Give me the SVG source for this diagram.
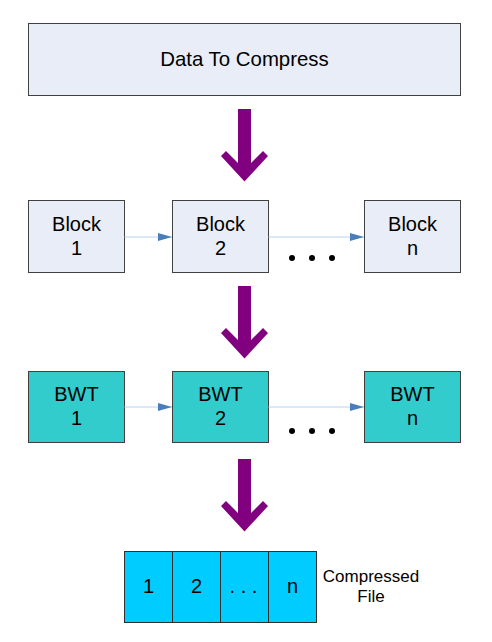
<svg xmlns="http://www.w3.org/2000/svg" width="492" height="642" viewBox="0 0 492 642">
<defs>
<style>
.box{stroke:#404040;stroke-width:1}
.blk{fill:#e8edf7}
.bwt{fill:#33cccc}
.cell{fill:#00ccff;stroke:#303030;stroke-width:1}
text{font-family:"Liberation Sans",Arial,sans-serif;fill:#000;text-anchor:middle}
.t20{font-size:20px}
.tt{font-size:20.4px}
.t17{font-size:17px}
.conn{stroke:#b8d2ee;stroke-width:1;fill:none}
.big{fill:#800080}
.dot{fill:#000}
</style>
<marker id="ah" markerWidth="14" markerHeight="8" refX="14" refY="4" orient="auto" markerUnits="userSpaceOnUse">
<path d="M0,0 L14,4 L0,8 Z" fill="#4a7ebb"/>
</marker>
<path id="bigarrow" d="M244.5,72.5 L221,47 L226,42 L238,54 L238,0 L251,0 L251,54 L263,42 L268,47 Z"/>
</defs>
<rect width="492" height="642" fill="#fff"/>

<g id="data">
<rect class="box blk" x="28.5" y="23.5" width="432" height="72"/>
<text class="tt" x="244.5" y="66">Data To Compress</text>
</g>

<g id="block1">
<rect class="box blk" x="28.5" y="200.5" width="96" height="72"/>
<text class="t20" x="76.5" y="231">Block</text>
<text class="t20" x="76.5" y="255">1</text>
</g>
<g id="block2">
<rect class="box blk" x="172.5" y="200.5" width="96" height="72"/>
<text class="t20" x="220.5" y="231">Block</text>
<text class="t20" x="220.5" y="255">2</text>
</g>
<g id="blockn">
<rect class="box blk" x="364.5" y="200.5" width="96" height="72"/>
<text class="t20" x="412.5" y="231">Block</text>
<text class="t20" x="412.5" y="255">n</text>
</g>

<g id="bwt1">
<rect class="box bwt" x="28.5" y="371.5" width="96" height="71"/>
<text class="t20" x="76.5" y="401">BWT</text>
<text class="t20" x="76.5" y="425">1</text>
</g>
<g id="bwt2">
<rect class="box bwt" x="172.5" y="371.5" width="96" height="71"/>
<text class="t20" x="220.5" y="401">BWT</text>
<text class="t20" x="220.5" y="425">2</text>
</g>
<g id="bwtn">
<rect class="box bwt" x="364.5" y="371.5" width="96" height="71"/>
<text class="t20" x="412.5" y="401">BWT</text>
<text class="t20" x="412.5" y="425">n</text>
</g>

<g id="compressed">
<rect class="cell" x="124.5" y="551.5" width="48" height="71"/>
<rect class="cell" x="172.5" y="551.5" width="48" height="71"/>
<rect class="cell" x="220.5" y="551.5" width="48" height="71"/>
<rect class="cell" x="268.5" y="551.5" width="48" height="71"/>
<text class="t20" x="148.5" y="593">1</text>
<text class="t20" x="196.5" y="593">2</text>
<text class="t20" x="243.5" y="593">. . .</text>
<text class="t20" x="292.5" y="593">n</text>
</g>
<g id="compressed-label">
<text class="t17" x="371" y="582">Compressed</text>
<text class="t17" x="371" y="602">File</text>
</g>

<g id="connectors">
<line class="conn" x1="124.5" y1="237" x2="172" y2="237" marker-end="url(#ah)"/>
<line class="conn" x1="268.5" y1="237" x2="364" y2="237" marker-end="url(#ah)"/>
<line class="conn" x1="124.5" y1="407" x2="172" y2="407" marker-end="url(#ah)"/>
<line class="conn" x1="268.5" y1="407" x2="364" y2="407" marker-end="url(#ah)"/>
<circle class="dot" cx="292" cy="258" r="3"/>
<circle class="dot" cx="312" cy="258" r="3"/>
<circle class="dot" cx="332" cy="258" r="3"/>
<circle class="dot" cx="292" cy="431" r="3"/>
<circle class="dot" cx="312" cy="431" r="3"/>
<circle class="dot" cx="332" cy="431" r="3"/>
<use href="#bigarrow" class="big" y="109"/>
<use href="#bigarrow" class="big" y="286"/>
<use href="#bigarrow" class="big" y="459"/>
</g>
</svg>
